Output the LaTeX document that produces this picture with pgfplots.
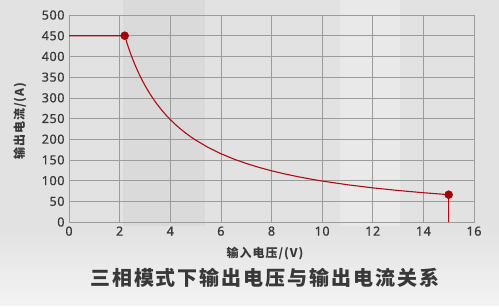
\documentclass[border=0pt]{standalone}
\usepackage{pgfplots}
\pgfplotsset{compat=1.18}
\usepackage{fontspec}
\setmainfont{Noto Sans CJK SC}
\newfontfamily\numfont[FakeBold=0.6,LetterSpace=5]{Noto Sans}
\newfontfamily\lblfont[LetterSpace=8]{Noto Sans CJK SC}
\newfontfamily\ttlfont[LetterSpace=10]{Noto Sans CJK SC}
\definecolor{redline}{HTML}{B00A14}
\definecolor{dotc}{HTML}{A50008}
\definecolor{txt}{HTML}{383838}
\definecolor{bg}{HTML}{E2E2E2}
\definecolor{gridc}{HTML}{9C9C9C}
\begin{document}
\begin{tikzpicture}[x=1pt,y=1pt]
\useasboundingbox (0,0) rectangle (499,306);
\fill[bg] (0,0) rectangle (499,306);
\fill[black,opacity=0.03] (123,80) rectangle (205,306);
\fill[white,opacity=0.25] (340,80) rectangle (400,306);
\shade[bottom color=white,top color=bg,opacity=0.6] (0,0) rectangle (499,80);
\begin{axis}[
  at={(69pt,84pt)}, anchor=south west,
  scale only axis, width=405pt, height=207pt,
  xmin=0, xmax=16, ymin=0, ymax=500,
  xtick={0,2,...,16}, ytick={0,50,...,500},
  grid=major,
  grid style={gridc, line width=0.6pt},
  axis line style={gridc, line width=0.8pt},
  tick style={draw=none},
  tick label style={font=\numfont\fontsize{12.5}{13}\selectfont, text=txt},
  /pgf/number format/assume math mode=true,
  xticklabel style={yshift=-1pt},
  yticklabel style={xshift=-1pt},
  clip=false,
]
\addplot[draw=redline, line width=1.1pt, line join=round, mark=none] coordinates {
(0,450) (2.2,450) (2.3,430.43) (2.4,412.5) (2.5,396) (2.6,380.77) (2.7,366.67)
(2.8,353.57) (2.9,341.38) (3.0,330) (3.2,309.38) (3.4,291.18) (3.6,275)
(3.8,260.53) (4.0,247.5) (4.25,232.94) (4.5,220) (4.75,208.42) (5,198)
(5.5,180) (6,165) (6.5,152.31) (7,141.43) (7.5,132) (8,123.75) (8.5,116.47)
(9,110) (9.5,104.21) (10,99) (11,90) (12,82.5) (13,76.15) (14,70.71) (15,66)
(15,0)};
\addplot[only marks, mark=*, mark size=4pt, draw=dotc, fill=dotc] coordinates {(2.2,450) (15,66)};
\end{axis}
\node[text=txt, font=\lblfont\bfseries\fontsize{12}{13}\selectfont] at (265,52) {输入电压/(V)};
\node[text=txt, font=\lblfont\bfseries\fontsize{12}{13}\selectfont, rotate=90] at (20,185) {输出电流/(A)};
\node[text=txt, font=\ttlfont\bfseries\fontsize{20}{22}\selectfont] at (265,28) {三相模式下输出电压与输出电流关系};
\end{tikzpicture}
\end{document}
